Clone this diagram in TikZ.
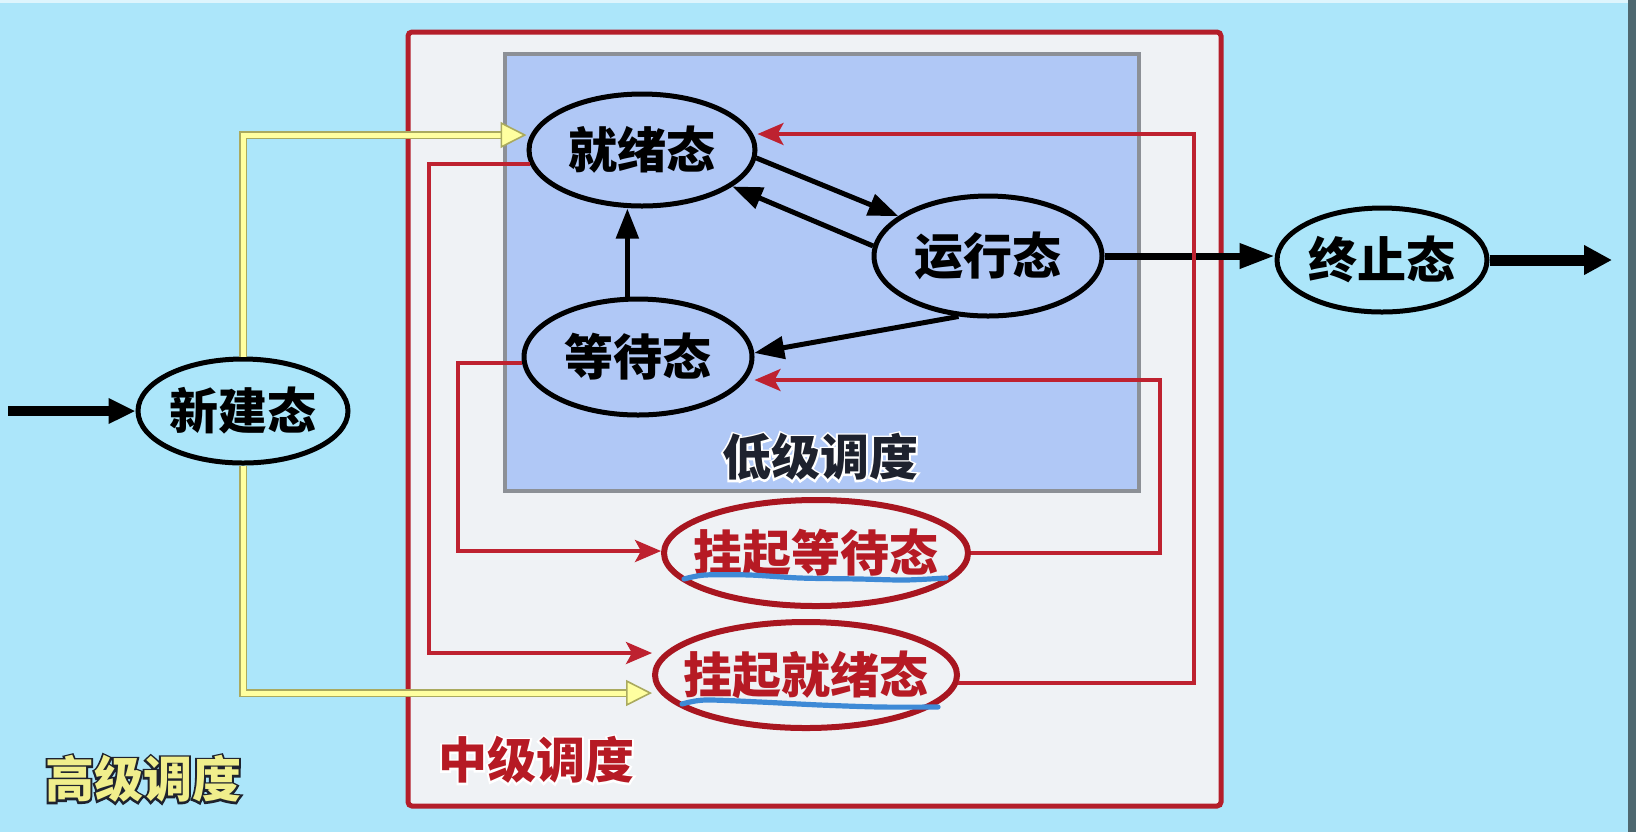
\documentclass[tikz,border=0pt]{standalone}
\usepackage{fontspec}
\setmainfont{Noto Sans CJK SC}
\newfontfamily\halofont{Noto Sans CJK SC}[BoldFeatures={FakeBold=8}]
\usetikzlibrary{arrows.meta,shapes.geometric,calc}
\definecolor{bg}{RGB}{172,230,250}
\definecolor{midfill}{RGB}{239,242,245}
\definecolor{lowfill}{RGB}{176,200,246}
\definecolor{lowedge}{RGB}{140,144,150}
\definecolor{boxred}{RGB}{180,30,42}
\definecolor{linered}{RGB}{190,34,48}
\definecolor{susred}{RGB}{168,22,32}
\definecolor{sustext}{RGB}{182,26,36}
\definecolor{ylight}{RGB}{255,255,160}
\definecolor{yolive}{RGB}{170,170,95}
\definecolor{ublue}{RGB}{62,138,214}
\definecolor{hiyel}{RGB}{240,238,140}
\definecolor{darktx}{RGB}{30,34,46}
\newcommand{\nodetxt}[1]{\makebox[0pt]{\raisebox{-0.38em}[0pt][0pt]{#1}}}
\newcommand{\halotxt}[2]{\rlap{\textcolor{#1}{\halofont #2}}#2}
\tikzset{
  stfont/.style={font=\fontsize{24.5}{26}\selectfont\bfseries},
  st/.style={ellipse, draw=black, line width=2.5pt, fill=lowfill, inner sep=0pt, stfont},
  sus/.style={ellipse, draw=susred, line width=3pt, fill=midfill, inner sep=0pt, text=sustext, stfont},
  blk/.style={draw=black, line width=2.5pt, -{Triangle[length=15pt,width=11pt]}},
  redc/.style={draw=linered, line width=1.75pt, -{Stealth[length=13pt,width=11pt,inset=3pt]}},
  youter/.style={draw=yolive, line width=4pt, shorten >=12pt},
  yinner/.style={draw=ylight, line width=2.5pt, -{Triangle[length=13pt,width=13pt,fill=ylight,color=yolive,line width=0.8pt]}},
  lbl/.style={inner sep=0pt, stfont},
  uline/.style={draw=ublue, line width=2.6pt, line cap=round}
}
\begin{document}
\begin{tikzpicture}[x=0.5pt,y=-0.5pt]
\useasboundingbox (0,0) rectangle (1636,832);
\fill[bg] (0,0) rectangle (1636,832);
\fill[white!60!bg] (0,0) rectangle (1636,3);
\fill[black!55!bg] (1628,0) rectangle (1636,832);

% boxes
\draw[boxred, fill=midfill, line width=2.5pt, rounded corners=2pt] (408,32) rectangle (1221,806);
\draw[lowedge, fill=lowfill, line width=2pt] (505,54) rectangle (1139,491);

% labels
\node[lbl, text=darktx] (low) at (820,457) {\halotxt{white}{低级调度}};
\node[lbl, text=sustext] (mid) at (536,760) {\halotxt{white}{中级调度}};
\node[lbl, text=hiyel] (high) at (143,779) {\halotxt{darktx}{高级调度}};

% black state nodes
\node[st, fill=bg, minimum width=105pt, minimum height=52pt] (new) at (243,411) {\nodetxt{新建态}};
\node[st, minimum width=113pt, minimum height=56pt] (ready) at (642,150) {\nodetxt{就绪态}};
\node[st, minimum width=114pt, minimum height=58pt] (wait) at (638,357) {\nodetxt{等待态}};
\node[st, minimum width=114pt, minimum height=60pt] (run) at (988,256) {\nodetxt{运行态}};
\node[st, fill=bg, minimum width=105pt, minimum height=52pt] (end) at (1382,260) {\nodetxt{终止态}};

\coordinate (src) at (8,411);
\coordinate (sink) at (1612,260);

% black connectors
\draw[line width=5pt, -{Triangle[length=13.5pt,width=12pt]}] (src) -- (new.west);
\draw[blk] (ready.-4) -- (run.156);
\draw[blk] (run.175) -- (ready.-22);
\draw[blk] (wait.100) -- (wait.100 |- ready.south);
\draw[blk] (run.-116) -- (wait.2);
\draw[line width=3.5pt, -{Triangle[length=17.5pt,width=12pt]}] (run.east) -- (run.east -| end.west);
\draw[line width=5.5pt, -{Triangle[length=14pt,width=14pt]}] (end.east) -- (end.east -| sink);

% suspended nodes
\node[sus, minimum width=152pt, minimum height=53pt] (sw) at (816,553) {\nodetxt{挂起等待态}};
\node[sus, minimum width=151pt, minimum height=53pt] (sr) at (806,675) {\nodetxt{挂起就绪态}};

% red connectors
\coordinate (c1) at (429,653);
\coordinate (c2) at (458,551);
\coordinate (c3) at (1160,380);
\coordinate (c4) at (1194,134);
\draw[redc] (ready.187) -| (c1) -- (c1 -| sr.west);
\draw[redc] (wait.183) -| (c2) -- (c2 -| sw.west);
\draw[redc] (sw.east) -| (c3) -- (c3 -| wait.east);
\draw[redc] (sr.-3) -| (c4) -- (c4 -| ready.east);

% yellow connectors (high-level scheduling)
\draw[youter] (new.north) |- ($(ready.west)+(0,-15)$);
\draw[yinner] (new.north) |- ($(ready.west)+(0,-15)$);
\draw[youter] (new.south) |- ($(sr.west)+(0,18)$);
\draw[yinner] (new.south) |- ($(sr.west)+(0,18)$);

% hand-drawn underlines
\draw[uline] plot[smooth] coordinates {(684,579) (705,575) (750,575) (800,578) (860,579) (905,580) (946,578)};
\draw[uline] plot[smooth] coordinates {(682,704) (705,700) (760,702) (820,705) (880,707) (938,707)};
\end{tikzpicture}
\end{document}
